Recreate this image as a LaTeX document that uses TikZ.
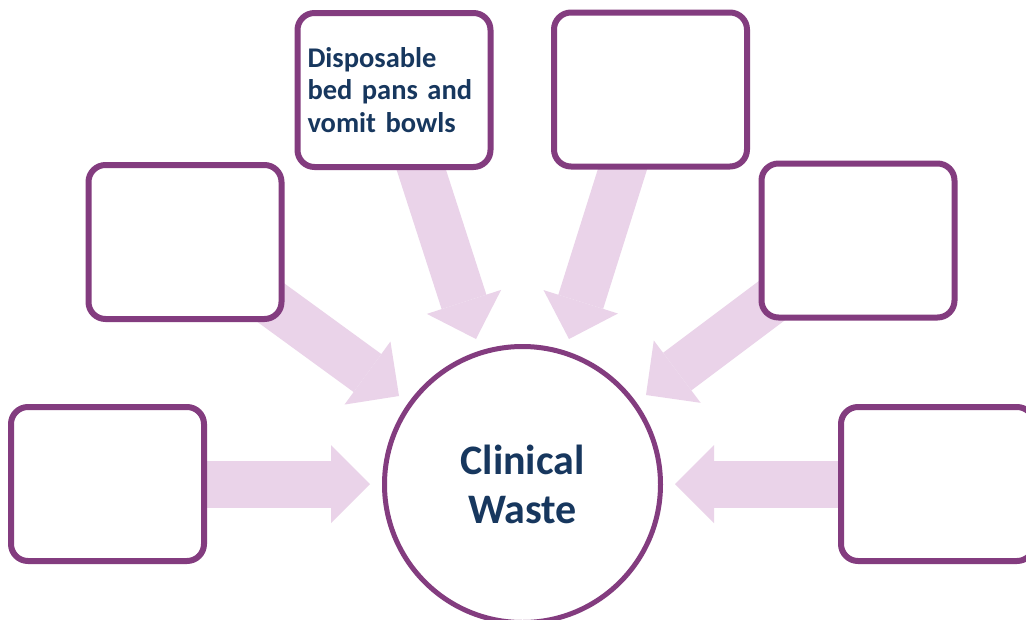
\documentclass[tikz,border=0pt]{standalone}
\usepackage{fontspec}
\setmainfont{Carlito}
\usetikzlibrary{arrows.meta}
\definecolor{boxpurple}{RGB}{131,60,127}
\definecolor{arrowpink}{RGB}{234,211,233}
\definecolor{textnavy}{RGB}{23,55,94}
\tikzset{
  wbox/.style={draw=boxpurple, line width=6pt, fill=white, rounded corners=17pt,
    minimum width=193pt, minimum height=154pt, inner xsep=10pt, inner ysep=0pt},
  bigarrow/.style={draw=arrowpink, line width=47pt,
    -{Triangle[width=78pt,length=39pt,line width=0pt]}},
  hubcircle/.style={circle, draw=boxpurple, line width=5pt, fill=white,
    minimum size=276pt, inner sep=0pt},
  boxtext/.style={text=textnavy, font=\bfseries\fontsize{28.5}{32.5}\selectfont,
    text width=173pt, align=left},
  hubtext/.style={text=textnavy, font=\bfseries\fontsize{42}{49}\selectfont, align=center}
}
\begin{document}
\begin{tikzpicture}[x=1pt,y=-1pt]
\clip (0,0) rectangle (1026,619);
\fill[white] (0,0) rectangle (1026,619);
% arrow ends
\coordinate (s1) at (150,484);   \coordinate (t1) at (370,484);
\coordinate (s2) at (900,484);   \coordinate (t2) at (675,484);
\coordinate (s3) at (237,278);   \coordinate (t3) at (399,396);
\coordinate (s4) at (411,138);   \coordinate (t4) at (476,339);
\coordinate (s5) at (632,139);   \coordinate (t5) at (569,339);
\coordinate (s6) at (806,275);   \coordinate (t6) at (646,395);
\draw[bigarrow] (s1) -- (t1);
\draw[bigarrow] (s2) -- (t2);
\draw[bigarrow] (s3) -- (t3);
\draw[bigarrow] (s4) -- (t4);
\draw[bigarrow] (s5) -- (t5);
\draw[bigarrow] (s6) -- (t6);
% boxes
\node[wbox, boxtext] (btl) at (394,90) {Disposable\\bed pans and\\vomit bowls};
\node[wbox] (btr) at (650.5,89.5) {};
\node[wbox] (blm) at (185,242) {};
\node[wbox] (brm) at (858,240.5) {};
\node[wbox] (bbl) at (107.5,484) {};
\node[wbox] (bbr) at (937.5,484) {};
% hub
\node[hubcircle, hubtext] (hub) at (522.5,484.5) {Clinical\\Waste};
\end{tikzpicture}
\end{document}
